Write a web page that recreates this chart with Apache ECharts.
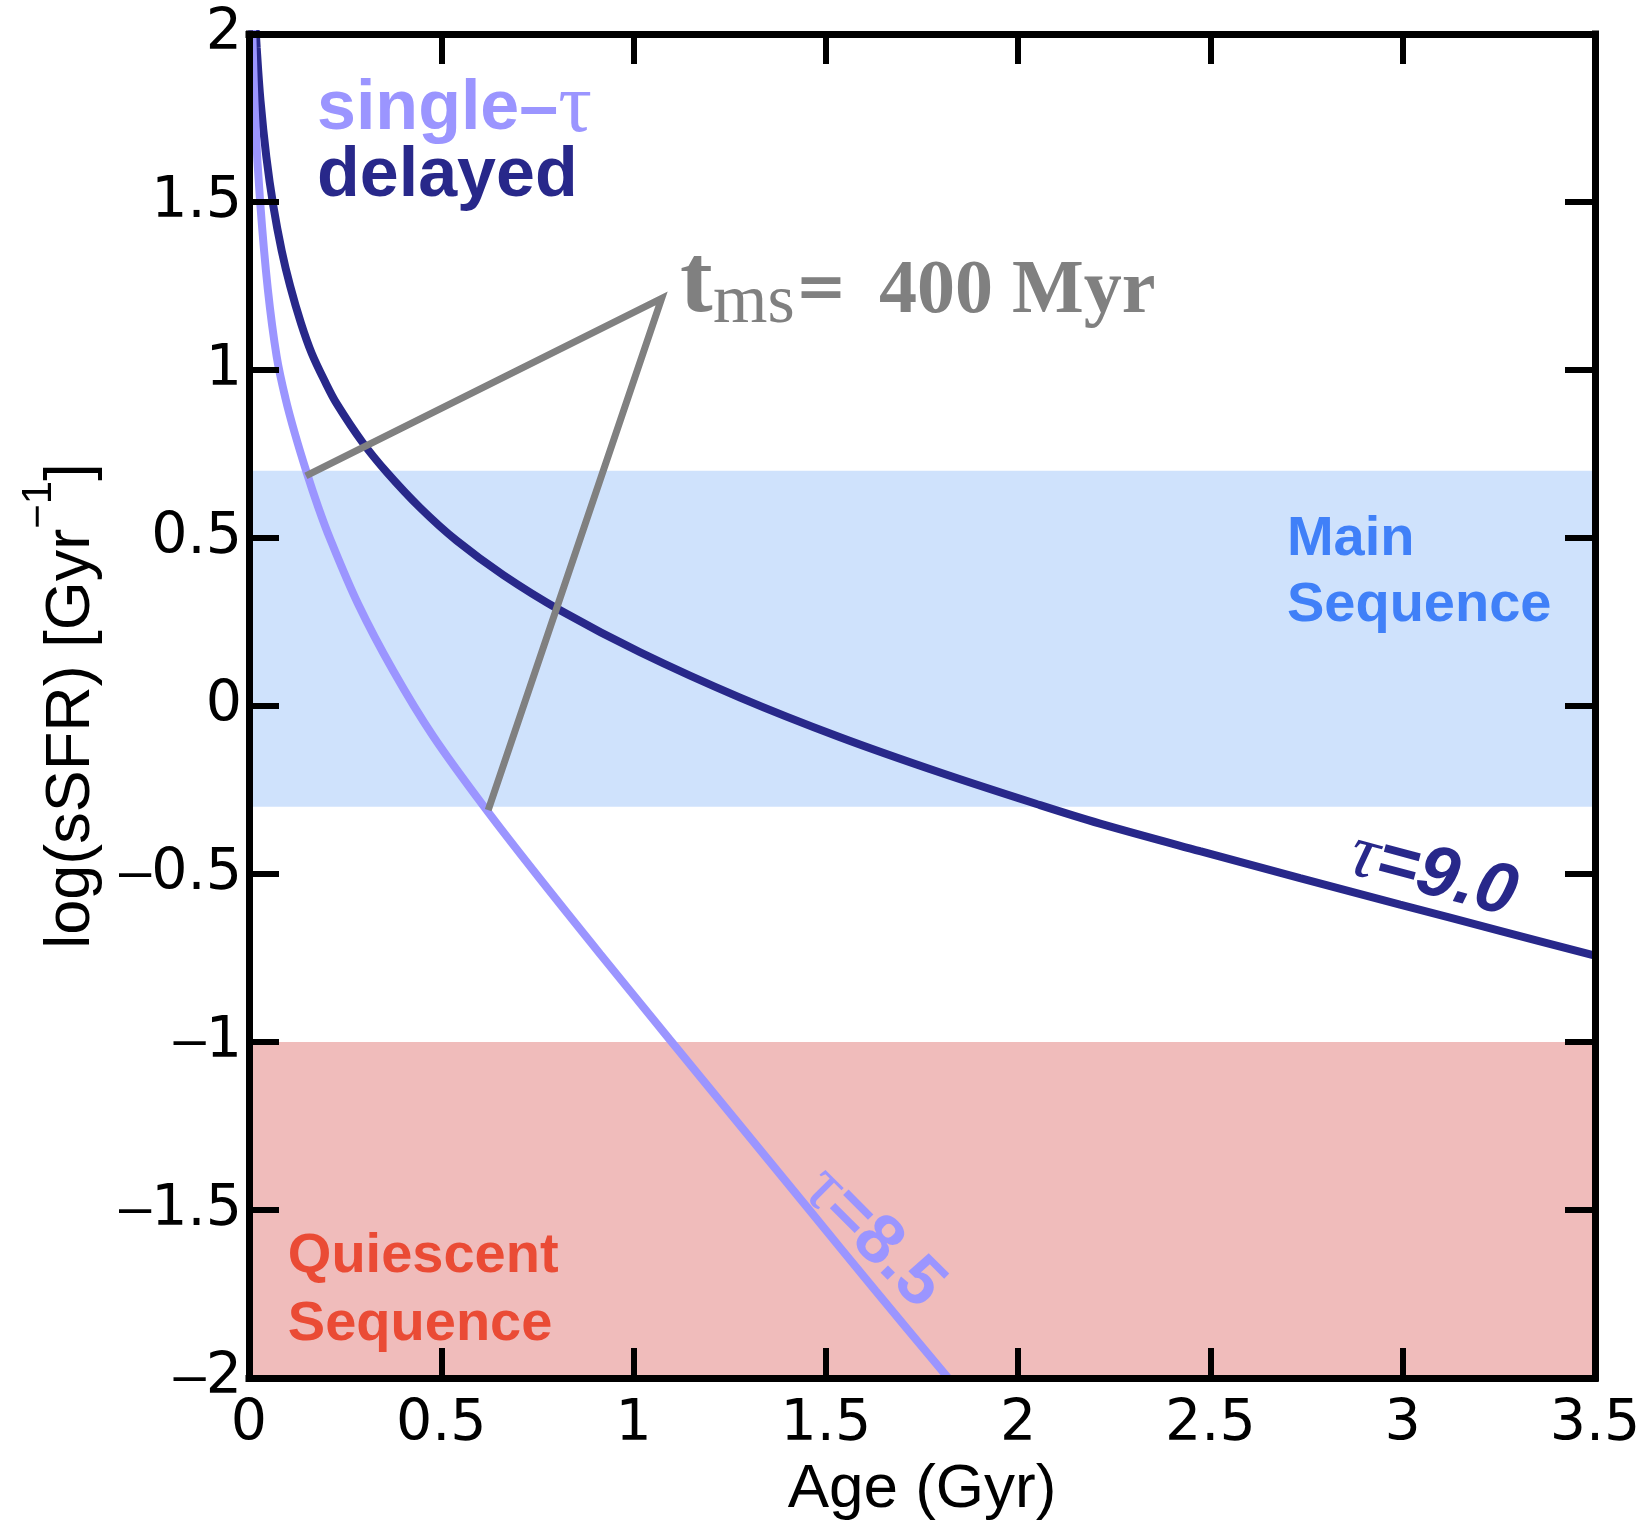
<!DOCTYPE html>
<html><head><meta charset="utf-8">
<script src="https://cdn.jsdelivr.net/npm/echarts@6/dist/echarts.min.js"></script>
<style>html,body{margin:0;padding:0;background:#fff}#c{width:1646px;height:1523px}</style>
</head><body><div id="c"></div>
<script>
// ---- data ----
const xTicks = [0, 0.5, 1, 1.5, 2, 2.5, 3, 3.5];
const yTicks = [-2, -1.5, -1, -0.5, 0, 0.5, 1, 1.5, 2];

const delayedAge  = [0.013, 0.02, 0.03, 0.045, 0.063, 0.085, 0.107, 0.135, 0.163, 0.2, 0.228, 0.295, 0.358, 0.445, 0.54, 0.661, 0.809, 1.017, 1.277, 1.537, 1.797, 2.057, 2.213, 2.473, 2.733, 2.993, 3.253, 3.5];
const delayedSSFR = [2.1, 1.96, 1.8, 1.635, 1.49, 1.355, 1.25, 1.14, 1.05, 0.96, 0.9, 0.785, 0.696, 0.59, 0.492, 0.39, 0.285, 0.16, 0.025, -0.093, -0.198, -0.295, -0.35, -0.432, -0.512, -0.591, -0.669, -0.743];

const singleAge  = [0.008, 0.016, 0.029, 0.049, 0.072, 0.095, 0.12, 0.15, 0.18, 0.21, 0.284, 0.375, 0.479, 0.618, 0.757, 0.913, 1.092, 1.271, 1.45, 1.629, 1.84];
const singleSSFR = [2.03, 1.75, 1.5, 1.24, 1.04, 0.915, 0.808, 0.695, 0.592, 0.5, 0.303, 0.105, -0.09, -0.31, -0.515, -0.738, -0.99, -1.24, -1.49, -1.74, -2.03];

const mainSeqBand   = [-0.3, 0.7];
const quiescentBand = [-2, -1];

const tmsLineAge  = [0.148, 1.073, 0.622];
const tmsLineSSFR = [0.685, 1.213, -0.31];

// ---- style ----
const SANS = '"Liberation Sans", Arial, Helvetica, sans-serif';
const TICKFONT = '"DejaVu Sans", "Liberation Sans", sans-serif';
const SERIF = '"Liberation Serif", "Times New Roman", serif';
const NAVY = '#28288a', LILAC = '#9b95ff', GRAY = '#808080';
const MS_BLUE = '#4080f8', QS_RED = '#ea4b35';

function pairs(xs, ys) { return xs.map((x, i) => [x, ys[i]]); }

const chart = echarts.init(document.getElementById('c'), null, {renderer: 'canvas'});

function axisBase(ticks, pos, showLabel, isY) {
  return {
    type: 'value', position: pos,
    min: ticks[0], max: ticks[ticks.length - 1], interval: ticks[1] - ticks[0],
    axisLine: {show: true, onZero: false, lineStyle: {color: '#000', width: 7, cap: 'square'}},
    axisTick: {show: true, inside: true, length: 30, lineStyle: {color: '#000', width: 6}},
    splitLine: {show: false},
    axisLabel: {
      show: showLabel, color: '#000', fontSize: 57, fontFamily: TICKFONT,
      margin: isY ? 7 : 19,
      formatter: v => (v < 0 ? '{m|\u2013}{n|' + (-v) + '}' : '{n|' + v + '}'),
      rich: {
        m: {fontSize: 58, fontFamily: SANS, color: '#000'},
        n: {fontSize: 57, fontFamily: TICKFONT, color: '#000'}
      }
    },
    nameMoveOverlap: false,
    z: 10
  };
}

const xMain = axisBase(xTicks, 'bottom', true, false);
xMain.name = 'Age (Gyr)';
xMain.nameLocation = 'middle';
xMain.nameGap = 81;
xMain.nameTextStyle = {fontSize: 62, fontFamily: SANS, color: '#000'};

const yMain = axisBase(yTicks, 'left', true, true);
yMain.name = '{a|log(sSFR) [Gyr}{s|\u22121}{a|]}';
yMain.nameLocation = 'middle';
yMain.nameGap = 146;
yMain.nameTextStyle = {
  rich: {
    a: {fontSize: 63, fontFamily: SANS, color: '#000', verticalAlign: 'bottom'},
    s: {fontSize: 42, fontFamily: SANS, color: '#000', verticalAlign: 'bottom', padding: [0, 0, 43, 0]}
  }
};

const option = {
  animation: false,
  backgroundColor: '#fff',
  grid: {left: 249, right: 51, top: 34, bottom: 145, containLabel: false, outerBoundsMode: 'none'},
  xAxis: [xMain, axisBase(xTicks, 'top', false, false)],
  yAxis: [yMain, axisBase(yTicks, 'right', false, true)],
  series: [
    {
      type: 'line', name: 'bands', data: [], z: 1, silent: true,
      markArea: {
        silent: true,
        data: [
          [{yAxis: mainSeqBand[0], itemStyle: {color: '#cfe2fc'}}, {yAxis: mainSeqBand[1]}],
          [{yAxis: quiescentBand[0], itemStyle: {color: '#f0bcbb'}}, {yAxis: quiescentBand[1]}]
        ]
      }
    },
    {
      type: 'line', name: 'delayed', data: pairs(delayedAge, delayedSSFR), z: 3,
      showSymbol: false, symbol: 'none', smooth: 0.35,
      lineStyle: {color: NAVY, width: 8}, clip: true
    },
    {
      type: 'line', name: 'single', data: pairs(singleAge, singleSSFR), z: 3,
      showSymbol: false, symbol: 'none', smooth: 0.35,
      lineStyle: {color: LILAC, width: 8}, clip: true
    },
    {
      type: 'line', name: 'tms', data: pairs(tmsLineAge, tmsLineSSFR), z: 4,
      showSymbol: false, symbol: 'none', smooth: false,
      lineStyle: {color: GRAY, width: 7, join: 'miter'}
    }
  ]
};
chart.setOption(option);

function px(t, v) { return chart.convertToPixel({gridIndex: 0}, [t, v]); }

function txt(t, v, style, extra) {
  const p = px(t, v);
  return Object.assign({type: 'text', x: p[0], y: p[1], z: 20, style: style}, extra || {});
}

const graphics = [
  txt(0.1768, 1.776, {
    text: '{a|single\u2013}{b|\u03c4}', align: 'left', verticalAlign: 'middle',
    rich: {
      a: {fontSize: 70, fontWeight: 'bold', fontFamily: SANS, fill: LILAC},
      b: {fontSize: 84, fontFamily: SERIF, fill: LILAC}
    }
  }),
  txt(0.1768, 1.574, {text: 'delayed', align: 'left', verticalAlign: 'middle',
    fontSize: 70, fontWeight: 'bold', fontFamily: SANS, fill: NAVY}),
  txt(2.699, 0.494, {text: 'Main', align: 'left', verticalAlign: 'middle',
    fontSize: 56, fontWeight: 'bold', fontFamily: SANS, fill: MS_BLUE}),
  txt(2.699, 0.300, {text: 'Sequence', align: 'left', verticalAlign: 'middle',
    fontSize: 56, fontWeight: 'bold', fontFamily: SANS, fill: MS_BLUE}),
  txt(0.101, -1.639, {text: 'Quiescent', align: 'left', verticalAlign: 'middle',
    fontSize: 56, fontWeight: 'bold', fontFamily: SANS, fill: QS_RED}),
  txt(0.101, -1.840, {text: 'Sequence', align: 'left', verticalAlign: 'middle',
    fontSize: 56, fontWeight: 'bold', fontFamily: SANS, fill: QS_RED}),
  txt(3.078, -0.503, {
    text: '{a|\u03c4}{b|=9.0}', align: 'center', verticalAlign: 'middle',
    rich: {
      a: {fontSize: 76, fontStyle: 'italic', fontFamily: SERIF, fill: NAVY},
      b: {fontSize: 72, fontStyle: 'italic', fontWeight: 'bold', fontFamily: SANS, fill: NAVY}
    }
  }, {rotation: -15 * Math.PI / 180}),
  txt(1.622, -1.583, {
    text: '{a|\u03c4}{b|=8.5}', align: 'center', verticalAlign: 'middle',
    rich: {
      a: {fontSize: 74, fontFamily: SERIF, fill: LILAC},
      b: {fontSize: 70, fontWeight: 'bold', fontFamily: SANS, fill: LILAC}
    }
  }, {rotation: -45 * Math.PI / 180}),
  txt(1.1206, 1.250, {text: 't', align: 'left', verticalAlign: 'middle',
    fontSize: 98, fontWeight: 'bold', fontFamily: SERIF, fill: GRAY}),
  txt(1.2066, 1.198, {text: 'ms', align: 'left', verticalAlign: 'middle',
    fontSize: 70, fontFamily: SERIF, fill: GRAY}),
  txt(1.4195, 1.236, {text: '=', align: 'left', verticalAlign: 'middle',
    fontSize: 62, fontWeight: 'bold', fontFamily: '"DejaVu Serif", serif', fill: GRAY}),
  txt(1.6381, 1.232, {text: '400 Myr', align: 'left', verticalAlign: 'middle',
    fontSize: 76, fontWeight: 'bold', fontFamily: SERIF, fill: GRAY})
];
chart.setOption({graphic: graphics});
</script>
</body></html>
